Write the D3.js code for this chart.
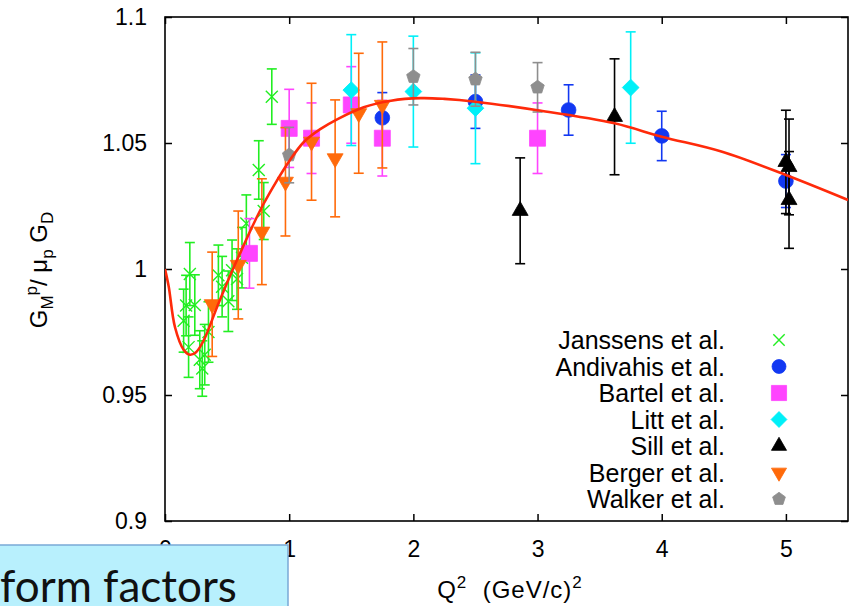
<!DOCTYPE html>
<html>
<head>
<meta charset="utf-8">
<script src="https://cdn.jsdelivr.net/npm/d3@7"></script>
<style>
  body { margin: 0; background: #fff; }
  svg { display: block; font-family: "Liberation Sans", Arial, Helvetica, sans-serif; }
</style>
</head>
<body>
<svg id="chart" width="856" height="606"></svg>
<script>
// ---- data: G_M^p / (mu_p G_D) versus Q^2 [(GeV/c)^2], rows are [Q2, ratio, error] ----
const xTickValues = [0, 1, 2, 3, 4, 5];
const xTickLabels = ["0", "1", "2", "3", "4", "5"];
const yTickValues = [0.9, 0.95, 1, 1.05, 1.1];
const yTickLabels = ["0.9", "0.95", "1", "1.05", "1.1"];

const janssens = [
  [0.15, 0.9795, 0.0125], [0.17, 0.9855, 0.0120], [0.19, 0.9690, 0.0120],
  [0.20, 0.9980, 0.0125], [0.24, 0.9857, 0.0120], [0.28, 0.9640, 0.0115],
  [0.30, 0.9605, 0.0110], [0.32, 0.9660, 0.0120], [0.35, 0.9750, 0.0120],
  [0.43, 0.9975, 0.0120], [0.46, 0.9930, 0.0120], [0.51, 0.9872, 0.0120],
  [0.54, 0.9995, 0.0120], [0.58, 0.9960, 0.0120], [0.62, 1.0045, 0.0120],
  [0.655, 1.0181, 0.0113], [0.755, 1.0393, 0.0116], [0.795, 1.0230, 0.0113],
  [0.86, 1.0684, 0.0110]
];
const andivahis = [
  [1.75, 1.0600, 0.0100], [2.50, 1.0664, 0.0106], [3.25, 1.0631, 0.0100],
  [4.00, 1.0528, 0.0098], [5.00, 1.0349, 0.0105]
];
const bartel = [
  [0.68, 1.0062, 0.0138], [1.00, 1.0558, 0.0155], [1.18, 1.0519, 0.0140],
  [1.50, 1.0651, 0.0152], [1.75, 1.0519, 0.0150], [3.00, 1.0519, 0.0140]
];
const litt = [
  [1.50, 1.0710, 0.0220], [2.00, 1.0704, 0.0220], [2.50, 1.0638, 0.0220],
  [3.75, 1.0720, 0.0221]
];
const sill = [
  [2.86, 1.0231, 0.0210], [3.62, 1.0604, 0.0230], [5.00, 1.0425, 0.0205],
  [5.025, 1.0405, 0.0190], [5.025, 1.0274, 0.0192]
];
const berger = [
  [0.38, 0.9860, 0.0207], [0.59, 1.0016, 0.0214], [0.78, 1.0148, 0.0210],
  [0.97, 1.0346, 0.0215], [1.18, 1.0505, 0.0232], [1.37, 1.0439, 0.0232],
  [1.56, 1.0618, 0.0238], [1.75, 1.0651, 0.0250]
];
const walker = [
  [1.00, 1.0452, 0.0110], [2.00, 1.0763, 0.0112], [2.50, 1.0753, 0.0107],
  [3.00, 1.0721, 0.0098]
];

// global fit curve, sampled as [Q2, ratio]
const fitCurve = [
  [0.00, 1.0000], [0.03, 0.9930], [0.08, 0.9770], [0.15, 0.9680], [0.20, 0.9660],
  [0.25, 0.9670], [0.31, 0.9715], [0.42, 0.9850], [0.53, 0.9980], [0.61, 1.0068],
  [0.69, 1.0155], [0.79, 1.0255], [0.90, 1.0350], [1.00, 1.0428], [1.12, 1.0505],
  [1.25, 1.0555], [1.39, 1.0595], [1.60, 1.0642], [1.82, 1.0668], [2.06, 1.0678],
  [2.25, 1.0675], [2.50, 1.0664], [3.00, 1.0630], [3.62, 1.0578], [4.00, 1.0525],
  [4.48, 1.0466], [5.00, 1.0373], [5.50, 1.0274]
];

const seriesNames = ["Janssens et al.", "Andivahis et al.", "Bartel et al.", "Litt et al.",
                     "Sill et al.", "Berger et al.", "Walker et al."];
const seriesData = [janssens, andivahis, bartel, litt, sill, berger, walker];

// ---- custom marker shapes ----
const symbolCross = {
  draw(ctx, size) {
    const r = Math.sqrt(size) / 2;
    ctx.moveTo(-r, -r); ctx.lineTo(r, r);
    ctx.moveTo(r, -r); ctx.lineTo(-r, r);
  }
};
const symbolPentagon = {
  draw(ctx, size) {
    const r = Math.sqrt(size) / 2;
    for (let i = 0; i < 5; i++) {
      const a = -Math.PI / 2 + i * 2 * Math.PI / 5;
      const px = r * Math.cos(a), py = r * Math.sin(a);
      if (i === 0) ctx.moveTo(px, py); else ctx.lineTo(px, py);
    }
    ctx.closePath();
  }
};

const styles = [
  { color: "#22ee22", type: symbolCross,      size: 144, stroke: true,  rotate: 0 },
  { color: "#1238f2", type: d3.symbolCircle,  size: 170, stroke: false, rotate: 0 },
  { color: "#ff44ff", type: d3.symbolSquare,  size: 256, stroke: false, rotate: 0 },
  { color: "#00f0f8", type: d3.symbolSquare,  size: 140, stroke: false, rotate: 45 },
  { color: "#000000", type: d3.symbolTriangle,size: 110, stroke: false, rotate: 0 },
  { color: "#ff6a0a", type: d3.symbolTriangle,size: 110, stroke: false, rotate: 180 },
  { color: "#8e8e8e", type: symbolPentagon,   size: 200, stroke: false, rotate: 0 }
];

// ---- scales ----
const svg = d3.select("#chart");
const x = d3.scaleLinear().domain([0, 5.5]).range([165, 848]);
const y = d3.scaleLinear().domain([0.9, 1.1]).range([521, 17]);
const [x0, x1] = x.range();
const [y0, y1] = y.range();

svg.append("defs").append("clipPath").attr("id", "plot-clip")
  .append("rect").attr("x", x0).attr("y", y1).attr("width", x1 - x0).attr("height", y0 - y1);

// ---- axes (ticks point inward on all four sides) ----
const tickLen = 7;
const fontSize = 23;

const gx = svg.append("g").attr("transform", `translate(0,${y0})`)
  .call(d3.axisBottom(x).tickValues(xTickValues).tickFormat((d, i) => xTickLabels[i])
        .tickSizeInner(-tickLen).tickSizeOuter(0).tickPadding(20));
const gy = svg.append("g").attr("transform", `translate(${x0},0)`)
  .call(d3.axisLeft(y).tickValues(yTickValues).tickFormat((d, i) => yTickLabels[i])
        .tickSizeInner(-tickLen).tickSizeOuter(0).tickPadding(18));
const gt = svg.append("g").attr("transform", `translate(0,${y1})`)
  .call(d3.axisTop(x).tickValues(xTickValues).tickFormat("")
        .tickSizeInner(-tickLen).tickSizeOuter(0));
const gr = svg.append("g").attr("transform", `translate(${x1},0)`)
  .call(d3.axisRight(y).tickValues(yTickValues).tickFormat("")
        .tickSizeInner(-tickLen).tickSizeOuter(0));

[gx, gy, gt, gr].forEach(g => {
  g.select(".domain").remove();
  g.selectAll(".tick line").attr("stroke", "#000").attr("stroke-width", 1.5);
  g.selectAll(".tick text").attr("fill", "#000")
    .style("font-family", "'Liberation Sans', Arial, sans-serif").style("font-size", fontSize + "px");
});

// frame
svg.append("rect").attr("x", x0).attr("y", y1).attr("width", x1 - x0).attr("height", y0 - y1)
  .attr("fill", "none").attr("stroke", "#000").attr("stroke-width", 1.6);

// ---- data series: error bars + markers ----
const plot = svg.append("g").attr("clip-path", "url(#plot-clip)");
const capHalf = 5;

seriesData.forEach((data, si) => {
  const st = styles[si];
  const g = plot.append("g");
  const bars = g.selectAll("g.err").data(data).join("g").attr("class", "err")
    .attr("stroke", st.color).attr("stroke-width", 1.6);
  bars.append("line")
    .attr("x1", d => x(d[0])).attr("x2", d => x(d[0]))
    .attr("y1", d => y(d[1] - d[2])).attr("y2", d => y(d[1] + d[2]));
  bars.append("line")
    .attr("x1", d => x(d[0]) - capHalf).attr("x2", d => x(d[0]) + capHalf)
    .attr("y1", d => y(d[1] + d[2])).attr("y2", d => y(d[1] + d[2]));
  bars.append("line")
    .attr("x1", d => x(d[0]) - capHalf).attr("x2", d => x(d[0]) + capHalf)
    .attr("y1", d => y(d[1] - d[2])).attr("y2", d => y(d[1] - d[2]));

  const sym = d3.symbol().type(st.type).size(st.size);
  g.selectAll("path.pt").data(data).join("path").attr("class", "pt")
    .attr("d", sym)
    .attr("transform", d => `translate(${x(d[0])},${y(d[1])}) rotate(${st.rotate})`)
    .attr("fill", st.stroke ? "none" : st.color)
    .attr("stroke", st.color)
    .attr("stroke-width", st.stroke ? 1.4 : 0.8);
});

// fit curve
plot.append("path").datum(fitCurve)
  .attr("d", d3.line().x(d => x(d[0])).y(d => y(d[1])).curve(d3.curveCatmullRom.alpha(0.5)))
  .attr("fill", "none").attr("stroke", "#ff2a0a").attr("stroke-width", 2.6);

// ---- legend ----
const legend = svg.append("g");
const legTextX = 725, legSymX = 779, legY0 = 340, legStep = 26.5;
seriesNames.forEach((name, i) => {
  const st = styles[i];
  const yy = legY0 + i * legStep;
  legend.append("text").attr("x", legTextX).attr("y", yy).attr("dy", "0.36em")
    .attr("text-anchor", "end").style("font-size", "25px").attr("fill", "#000").text(name);
  legend.append("path")
    .attr("d", d3.symbol().type(st.type).size(st.size * 0.9)())
    .attr("transform", `translate(${legSymX},${yy}) rotate(${st.rotate})`)
    .attr("fill", st.stroke ? "none" : st.color)
    .attr("stroke", st.color).attr("stroke-width", st.stroke ? 1.4 : 0.8);
});

// ---- axis titles ----
const xt = svg.append("text").attr("x", 510).attr("y", 598).attr("text-anchor", "middle")
  .style("font-size", "24px").style("letter-spacing", "1px").attr("fill", "#000");
xt.append("tspan").text("Q");
xt.append("tspan").attr("dy", -10).style("font-size", "17px").text("2");
xt.append("tspan").attr("dy", 10).text("\u00a0 (GeV/c)");
xt.append("tspan").attr("dy", -10).style("font-size", "17px").text("2");

const yt = svg.append("text").attr("transform", "translate(47,270) rotate(-90)")
  .attr("text-anchor", "middle").style("font-size", "24px").attr("fill", "#000");
yt.append("tspan").text("G");
yt.append("tspan").attr("dy", 6).style("font-size", "17px").text("M");
yt.append("tspan").attr("dy", -16).style("font-size", "17px").text("p");
yt.append("tspan").attr("dy", 10).text("/ \u03bc");
yt.append("tspan").attr("dy", 6).style("font-size", "17px").text("p");
yt.append("tspan").attr("dy", -6).text(" G");
yt.append("tspan").attr("dy", 6).style("font-size", "17px").text("D");

// ---- caption box overlapping the lower left corner ----
svg.append("rect").attr("x", -2).attr("y", 545).attr("width", 290).attr("height", 70)
  .attr("fill", "#b8f0fd").attr("stroke", "#7aa9d6").attr("stroke-width", 1.5);
svg.append("text").attr("x", 0).attr("y", 602)
  .style("font-family", "Lato, 'Open Sans', sans-serif").style("font-size", "44px")
  .attr("fill", "#111").text("form factors");
</script>
</body>
</html>
